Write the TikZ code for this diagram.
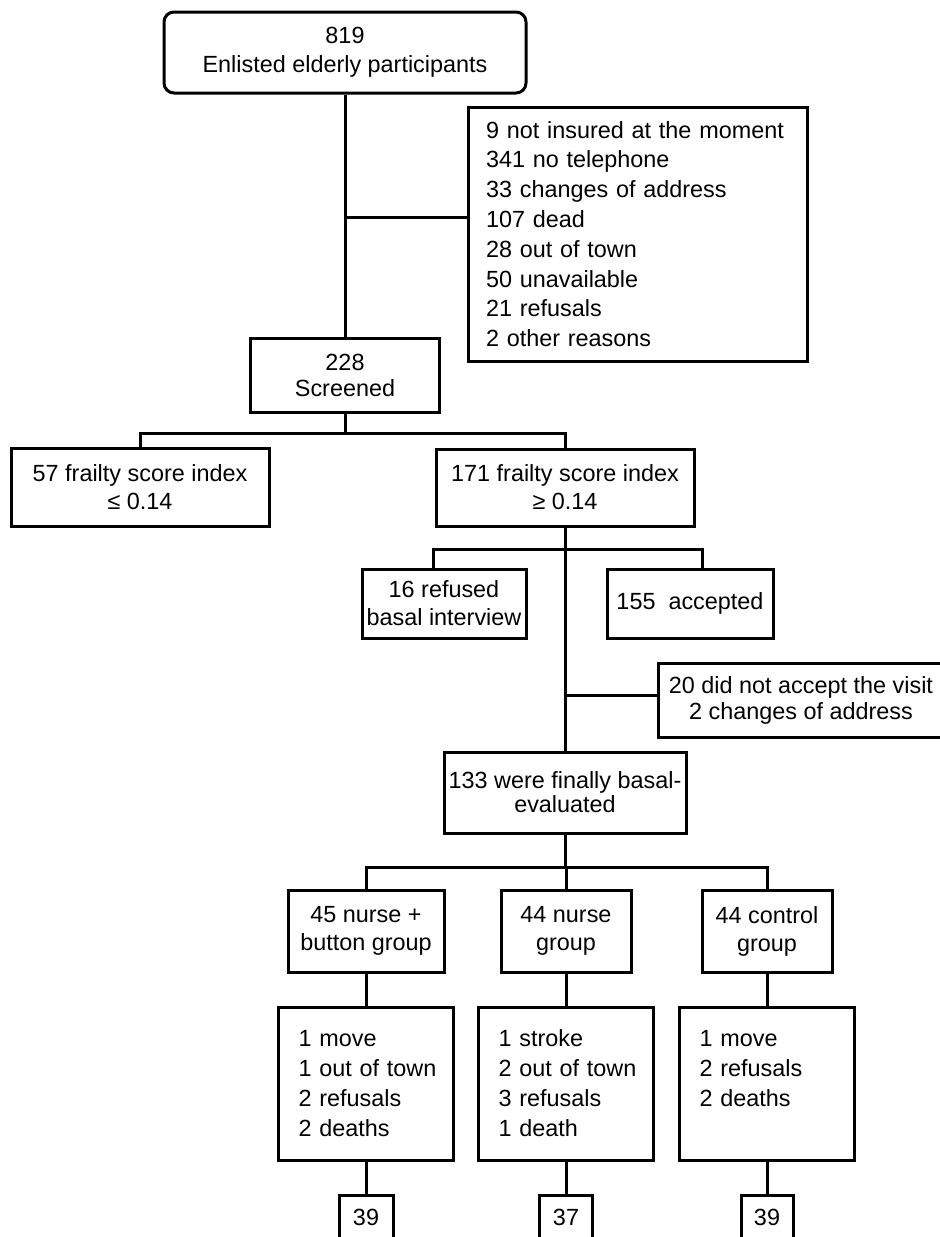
\documentclass[tikz,border=0pt]{standalone}
\usepackage{fontspec}
\setmainfont{Liberation Sans}
\newcommand{\fsz}[1]{\fontsize{11.7pt}{#1}\selectfont}
\tikzset{
    box/.style={draw, line width=1.5pt, align=center, inner sep=2pt, font=\fsz{14pt}},
    listbox/.style={box, align=left},
    link/.style={line width=1.5pt},
}
\begin{document}
\begin{tikzpicture}[x=0.5pt, y=-0.5pt]
    \useasboundingbox (0,0) rectangle (939,1237);

    % Enrolment and screening
    \node[box, rounded corners=5pt, minimum width=181pt, minimum height=40.5pt, font=\fsz{14.5pt}] (enlisted) at (345,52.5) {819\\Enlisted elderly participants};
    \node[listbox, text width=151.5pt, inner xsep=9pt, minimum height=127pt, font=\fsz{14.9pt}] (excl) at (637.5,234)
        {9 not insured at the moment\\341 no telephone\\33 changes of address\\107 dead\\28 out of town\\50 unavailable\\21 refusals\\2 other reasons};
    \node[box, minimum width=94.5pt, minimum height=37pt, font=\fsz{13pt}] (screen) at (345,375) {228\\Screened};

    % Frailty split
    \node[box, minimum width=129pt, minimum height=39pt] (lowfs) at (140,487) {57 frailty score index\\≤ 0.14};
    \node[box, minimum width=129pt, minimum height=38.5pt] (highfs) at (565,487.5) {171 frailty score index\\≥ 0.14};
    \node[box, minimum width=82pt, minimum height=34.5pt] (refused) at (444,603.5) {16 refused\\basal interview};
    \node[box, minimum width=83pt, minimum height=34.5pt] (accepted) at (690,603.5) {155\ \ accepted};
    \node[box, minimum width=143pt, minimum height=37pt, font=\fsz{13pt}] (visit) at (801,700) {20 did not accept the visit\\2 changes of address};
    \node[box, inner xsep=1pt, minimum width=121pt, minimum height=40.5pt, font=\fsz{12pt}] (final) at (565,792.5) {133 were finally basal-\\evaluated};

    % Groups
    \node[box, minimum width=78pt, minimum height=41pt] (grp1) at (366,931) {45 nurse +\\button group};
    \node[box, minimum width=65pt, minimum height=41pt] (grp2) at (566,931) {44 nurse\\group};
    \node[box, minimum width=65pt, minimum height=41pt] (grp3) at (767,931) {44 control\\group};

    \node[listbox, text width=67.5pt, inner xsep=10pt, minimum height=76.5pt, font=\fsz{15pt}] (det1) at (366,1083.5)
        {1 move\\1~out~of~town\\2 refusals\\2 deaths};
    \node[listbox, text width=67.5pt, inner xsep=10pt, minimum height=76.5pt, font=\fsz{15pt}] (det2) at (566,1083.5)
        {1 stroke\\2~out~of~town\\3 refusals\\1 death};
    \node[listbox, text width=67.5pt, inner xsep=10pt, minimum height=76.5pt, font=\fsz{15pt}] (det3) at (767,1083.5)
        {1 move\\2 refusals\\2 deaths\\~};

    \node[box, minimum width=27pt, minimum height=22.5pt] (fin1) at (366,1217.5) {39};
    \node[box, minimum width=26.5pt, minimum height=22.5pt] (fin2) at (566,1217.5) {37};
    \node[box, minimum width=26pt, minimum height=22.5pt] (fin3) at (767,1217.5) {39};

    % Connectors
    \coordinate (fork1) at (345,217);
    \coordinate (fork2) at (345,433);
    \coordinate (splitA) at (433,549);
    \coordinate (splitB) at (702,549);
    \coordinate (fork3) at (565,695);
    \coordinate (fork4) at (565,867);

    \draw[link] (enlisted.south) -- (screen.north);
    \draw[link] (fork1) -- (fork1 -| excl.west);
    \draw[link] (screen.south) -- (fork2);
    \draw[link] (lowfs.north) -- (lowfs.north |- fork2) -- (highfs.north |- fork2) -- (highfs.north);
    \draw[link] (highfs.south) -- (final.north);
    \draw[link] (refused.north -| splitA) -- (splitA) -- (splitB) -- (accepted.north -| splitB);
    \draw[link] (fork3) -- (fork3 -| visit.west);
    \draw[link] (final.south) -- (fork4);
    \draw[link] (grp1.north) |- (fork4) -| (grp3.north);
    \draw[link] (fork4) -- (fork4 -| grp2.north) -- (grp2.north);
    \foreach \i in {1,2,3} {
        \draw[link] (grp\i.south) -- (det\i.north);
        \draw[link] (det\i.south) -- (fin\i.north);
    }
\end{tikzpicture}
\end{document}
